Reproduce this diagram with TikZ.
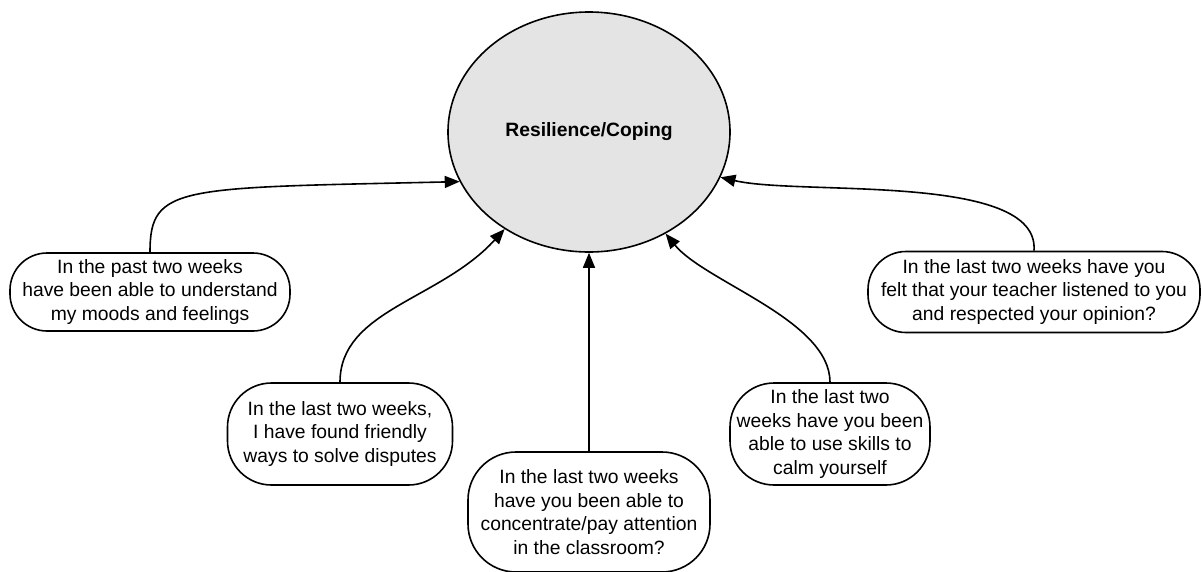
\documentclass[tikz,border=0pt]{standalone}
\usepackage{fontspec}
\setmainfont{Liberation Sans}
\usepackage{tikz}
\usetikzlibrary{
    arrows.meta,
    shapes.geometric
}
\definecolor{coregray}{HTML}{E4E4E4}

\begin{document}
\begin{tikzpicture}[x=1pt,y=-1pt,
    item/.style={draw,line width=1.6pt,rounded corners=37pt,align=center,
        inner sep=0pt,font=\fontsize{19.3}{23.4}\selectfont},
    link/.style={line width=1.6pt,-{Triangle[length=15pt,width=12pt]}}]

% Frame
\useasboundingbox (0,0) rectangle (1202,571);

% Core ellipse
\node[ellipse,draw,line width=1.6pt,fill=coregray,minimum width=282pt,
    minimum height=240pt,inner sep=0pt,
    font=\fontsize{19.3}{23.4}\selectfont\bfseries] (core) at (589,132) {Resilience/Coping};

% Questions
\node[item,minimum width=280pt,minimum height=78pt] (moods) at (150,292)
    {In the past two weeks\\have been able to understand\\my moods and feelings};
\node[item,rounded corners=44pt,minimum width=225pt,minimum height=102pt] (disputes) at (340,434)
    {In the last two weeks,\\I have found friendly\\ways to solve disputes};
\node[item,rounded corners=48pt,minimum width=242pt,minimum height=120pt] (attention) at (589,512)
    {In the last two weeks\\have you been able to\\concentrate/pay attention\\in the classroom?};
\node[item,rounded corners=44pt,minimum width=200pt,minimum height=102pt] (calm) at (830,434)
    {In the last two\\weeks have you been\\able to use skills to\\calm yourself};
\node[item,rounded corners=38pt,minimum width=332pt,minimum height=81pt] (teacher) at (1034,292)
    {In the last two weeks have you\\felt that your teacher listened to you\\and respected your opinion?};

% Arrows
\draw[link] (moods.north) .. controls (150,185) and (178,188) .. (core.201.6);
\draw[link] (disputes.north) .. controls (340,310) and (440,300) .. (core.229.6);
\draw[link] (attention.north) -- (core.south);
\draw[link] (calm.north) .. controls (830,320) and (705,282) .. (core.307);
\draw[link] (teacher.north) .. controls (1040,172) and (800,196) .. (core.341);

\end{tikzpicture}
\end{document}
